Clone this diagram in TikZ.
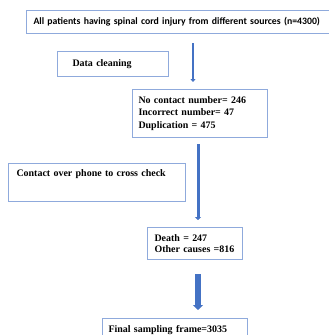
\documentclass[tikz,border=0pt]{standalone}
\usepackage{fontspec}
\setmainfont{Liberation Serif}
\newfontfamily\calibri{Carlito}
\usetikzlibrary{arrows.meta}
\definecolor{bordoblu}{HTML}{8FAADC}
\definecolor{frecciablu}{HTML}{4472C4}

\begin{document}
\begin{tikzpicture}[x=1bp,y=-1bp,
    riquadro/.style={draw=bordoblu,line width=1bp,anchor=north west,align=left,
        inner ysep=0pt,font=\bfseries\fontsize{10}{12.5}\selectfont},
    freccia/.style={draw=frecciablu,-{Triangle[width=5bp,length=3bp]}}]
    \clip (0,0) rectangle (329,335);

    % riquadri
    \node[riquadro,font=\calibri\bfseries\fontsize{9.8}{12}\selectfont,
        inner xsep=7bp,text width=330bp,minimum height=23bp] (fonte) at (26,10)
        {All patients having spinal cord injury from different sources (n=4300)};
    \node[riquadro,inner xsep=15bp,text width=81bp,minimum height=25bp] (pulizia) at (57,51)
        {Data cleaning};
    \node[riquadro,inner xsep=6bp,text width=123bp,minimum height=48bp] (esclusi) at (132,89)
        {No contact number= 246\\Incorrect number= 47\\Duplication = 475};
    \node[riquadro,inner xsep=8bp,inner ysep=4bp,text width=161bp,
        text height=9bp,text depth=21bp] (telefono) at (8,163)
        {Contact over phone to cross check};
    \node[riquadro,font=\bfseries\fontsize{10}{11.5}\selectfont,
        inner xsep=7bp,text width=81bp,minimum height=32bp] (decessi) at (147,227)
        {Death = 247\\Other causes =816};
    \node[riquadro,inner xsep=6bp,inner ysep=4bp,text width=133bp,
        text height=9.5bp,text depth=20bp] (finale) at (102,318)
        {Final sampling frame=3035};

    % frecce
    \coordinate (asse1) at (193,0);
    \coordinate (asse2) at (198,0);
    \draw[freccia,line width=1.5bp,shorten <=9bp,shorten >=7bp]
        (fonte.south -| asse1) -- (esclusi.north -| asse1);
    \draw[freccia,line width=3bp,shorten <=6bp,shorten >=7bp,
        -{Triangle[width=6bp,length=3bp]}]
        (esclusi.south -| asse2) -- (decessi.north -| asse2);
    \draw[freccia,line width=6bp,shorten <=14bp,shorten >=8bp,
        -{Triangle[width=10bp,length=5bp]}]
        (decessi.south -| asse2) -- (finale.north -| asse2);
\end{tikzpicture}
\end{document}
